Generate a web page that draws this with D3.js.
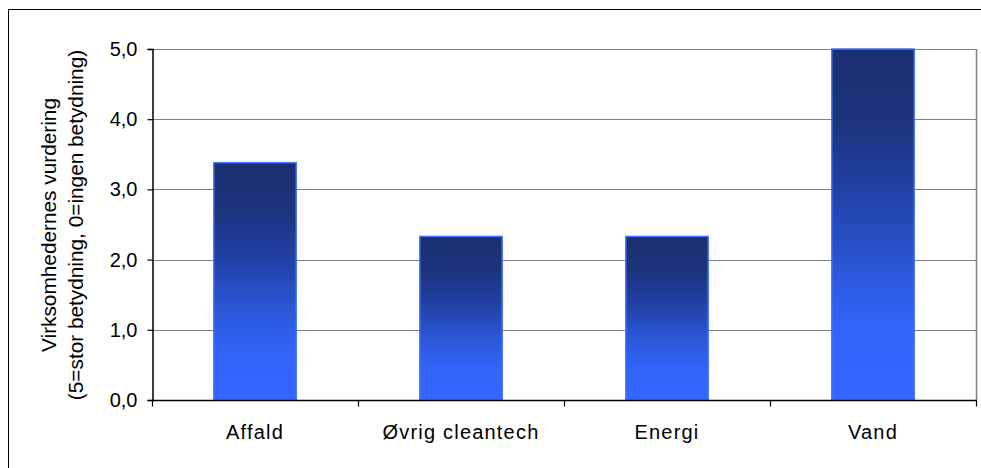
<!DOCTYPE html>
<html>
<head>
<meta charset="utf-8">
<script src="https://cdn.jsdelivr.net/npm/d3@7/dist/d3.min.js"></script>
<style>
  html, body { margin: 0; padding: 0; background: #fff; }
  svg { display: block; }
  text { font-family: "Liberation Sans", Arial, sans-serif; fill: #000; }
</style>
</head>
<body>
<svg id="chart" width="981" height="468"></svg>
<script>
// Business ratings per cleantech segment
const categories = ["Affald", "Øvrig cleantech", "Energi", "Vand"];
const values = [3.38, 2.33, 2.33, 5.0];
const yTicks = [0, 1, 2, 3, 4, 5];
const yTitleLines = ["Virksomhedernes vurdering", "(5=stor betydning, 0=ingen betydning)"];

const svg = d3.select("#chart");
const W = 981, H = 468;
const plot = { left: 152, right: 976, top: 49, bottom: 400 };

// outer frame
svg.append("rect")
  .attr("x", 8.5).attr("y", 9.5)
  .attr("width", W + 10).attr("height", H + 10)
  .attr("fill", "none").attr("stroke", "#000").attr("stroke-width", 1);

const x = d3.scaleBand().domain(categories).range([plot.left, plot.right]).paddingInner(0).paddingOuter(0);
const y = d3.scaleLinear().domain([0, 5]).range([plot.bottom, plot.top]);

// bar gradient
const defs = svg.append("defs");
const grad = defs.append("linearGradient").attr("id", "barGrad")
  .attr("x1", 0).attr("y1", 0).attr("x2", 0).attr("y2", 1);
[[0, "#1a2f70"], [0.2, "#1b347c"], [0.4, "#2040a2"], [0.6, "#2a55d2"], [0.8, "#3264fa"], [1, "#3366ff"]]
  .forEach(([o, c]) => grad.append("stop").attr("offset", o).attr("stop-color", c));

// gridlines
svg.append("g").selectAll("line").data(yTicks.filter(t => t > 0)).join("line")
  .attr("x1", plot.left).attr("x2", plot.right)
  .attr("y1", d => Math.round(y(d)) + 0.5).attr("y2", d => Math.round(y(d)) + 0.5)
  .attr("stroke", "#808080").attr("stroke-width", 1.2);

// right border of plot area
svg.append("line")
  .attr("x1", plot.right + 0.5).attr("x2", plot.right + 0.5)
  .attr("y1", plot.top).attr("y2", plot.bottom)
  .attr("stroke", "#808080").attr("stroke-width", 1.5);

// bars
const barW = x.bandwidth() * 0.4;
svg.append("g").selectAll("rect").data(categories).join("rect")
  .attr("x", d => x(d) + (x.bandwidth() - barW) / 2)
  .attr("y", (d, i) => y(values[i]))
  .attr("width", barW)
  .attr("height", (d, i) => y(0) - y(values[i]))
  .attr("fill", "url(#barGrad)")
  .attr("stroke", "#4273ff").attr("stroke-width", 1.5);

// y axis
const yAxis = svg.append("g")
  .attr("transform", `translate(${plot.left + 0.5},0)`)
  .call(d3.axisLeft(y).tickValues(yTicks).tickSize(5).tickPadding(10)
    .tickFormat(d => d3.format(".1f")(d).replace(".", ",")));
yAxis.select(".domain").attr("stroke", "#000").attr("stroke-width", 1.5);
yAxis.selectAll(".tick line").attr("stroke", "#000").attr("stroke-width", 1.2);
yAxis.selectAll(".tick text").attr("font-size", 20).attr("fill", "#000");

// x axis with ticks at category boundaries
const xAxis = svg.append("g").attr("transform", `translate(0,${plot.bottom + 0.5})`);
xAxis.append("line").attr("x1", plot.left).attr("x2", plot.right + 1)
  .attr("stroke", "#000").attr("stroke-width", 1.5);
const bounds = categories.map(c => x(c)).concat([plot.right]);
xAxis.selectAll("line.tk").data(bounds).join("line").attr("class", "tk")
  .attr("x1", d => d + 0.5).attr("x2", d => d + 0.5)
  .attr("y1", 0).attr("y2", 6)
  .attr("stroke", "#000").attr("stroke-width", 1.2);
xAxis.selectAll("text").data(categories).join("text")
  .attr("x", d => x(d) + x.bandwidth() / 2)
  .attr("y", 38.5)
  .attr("text-anchor", "middle")
  .attr("font-size", 20)
  .attr("letter-spacing", 1.2)
  .text(d => d);

// y axis title
const yt = svg.append("text")
  .attr("transform", "translate(0,225) rotate(-90)")
  .attr("text-anchor", "middle")
  .attr("font-size", 20.8);
yt.selectAll("tspan").data(yTitleLines).join("tspan")
  .attr("x", 0)
  .attr("y", (d, i) => 56 + i * 27)
  .text(d => d);
</script>
</body>
</html>
